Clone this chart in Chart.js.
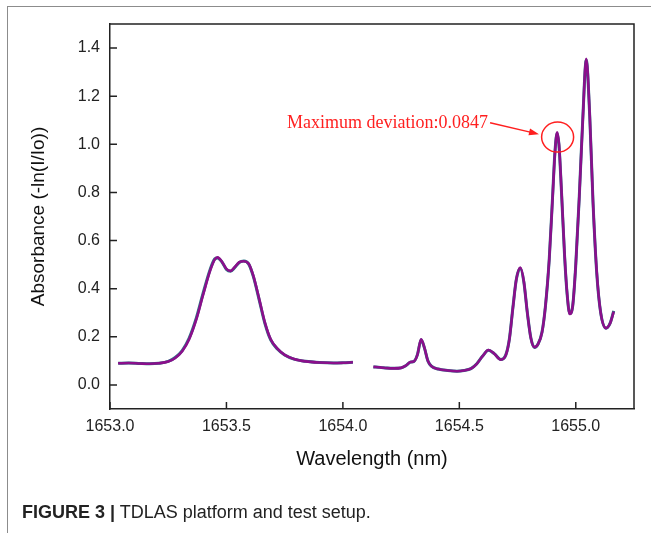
<!DOCTYPE html>
<html>
<head>
<meta charset="utf-8">
<script src="https://cdn.jsdelivr.net/npm/chart.js@4.4.1/dist/chart.umd.min.js"></script>
<style>
  body { margin: 0; background: #fff; }
  #wrap { position: relative; width: 651px; height: 533px; overflow: hidden; }
  #frame { position: absolute; left: 7px; top: 6px; width: 660px; height: 600px;
           border-top: 1.5px solid #8c8c8c; border-left: 1.5px solid #8c8c8c; }
  #myChart { position: absolute; left: 0; top: 0; }
  #caption { position: absolute; left: 22px; top: 503px; font-family: "Liberation Sans", Arial, sans-serif;
             font-size: 18px; line-height: 18px; color: #222; white-space: nowrap; }
  #caption b { font-weight: bold; }
</style>
</head>
<body>
<div id="wrap">
  <div id="frame"></div>
  <canvas id="myChart" width="651" height="533"></canvas>
  <div id="caption"><b>FIGURE 3 |</b> TDLAS platform and test setup.</div>
</div>
<script>
// wavelength (nm), null = gap in the scan
var wavelength = [
  1653.035, 1653.08, 1653.13, 1653.17, 1653.21, 1653.25, 1653.28, 1653.31, 1653.34, 1653.37,
  1653.40, 1653.43, 1653.45, 1653.462, 1653.48, 1653.50, 1653.517, 1653.535, 1653.555, 1653.575,
  1653.595, 1653.615, 1653.64, 1653.665, 1653.69, 1653.72, 1653.75, 1653.79, 1653.84, 1653.90,
  1653.96, 1654.00, 1654.043, null,
  1654.131, 1654.16, 1654.19, 1654.22, 1654.25, 1654.27, 1654.29, 1654.305, 1654.32, 1654.336,
  1654.35, 1654.365, 1654.38, 1654.41, 1654.45, 1654.49, 1654.52, 1654.55, 1654.575, 1654.60,
  1654.625, 1654.65, 1654.678, 1654.70, 1654.715, 1654.73, 1654.745, 1654.762, 1654.777, 1654.792,
  1654.807, 1654.822, 1654.838, 1654.855, 1654.87, 1654.886, 1654.90, 1654.911, 1654.92, 1654.928,
  1654.938, 1654.952, 1654.963, 1654.974, 1654.987, 1655.00, 1655.015, 1655.03, 1655.045, 1655.06,
  1655.074, 1655.09, 1655.107, 1655.13, 1655.147, 1655.163
];

// measured absorbance (teal, underneath)
var absMeasured = [
  0.090, 0.091, 0.089, 0.088, 0.090, 0.098, 0.114, 0.143, 0.195, 0.276,
  0.382, 0.480, 0.524, 0.528, 0.512, 0.480, 0.472, 0.487, 0.509, 0.515,
  0.503, 0.452, 0.356, 0.256, 0.187, 0.148, 0.124, 0.107, 0.098, 0.093,
  0.091, 0.092, 0.094, null,
  0.075, 0.073, 0.070, 0.069, 0.071, 0.080, 0.095, 0.098, 0.126, 0.188,
  0.154, 0.100, 0.078, 0.066, 0.060, 0.057, 0.060, 0.068, 0.088, 0.120,
  0.144, 0.130, 0.106, 0.126, 0.192, 0.322, 0.440, 0.485, 0.428, 0.300,
  0.196, 0.156, 0.170, 0.220, 0.330, 0.522, 0.775, 0.975, 1.045, 0.995,
  0.815, 0.535, 0.375, 0.297, 0.330, 0.500, 0.782, 1.105, 1.350, 1.115,
  0.760, 0.465, 0.300, 0.236, 0.256, 0.308
];

// fitted absorbance (purple, on top)
var absFitted = [
  0.090, 0.091, 0.089, 0.088, 0.090, 0.097, 0.112, 0.140, 0.190, 0.270,
  0.375, 0.475, 0.522, 0.530, 0.513, 0.482, 0.474, 0.489, 0.510, 0.514,
  0.505, 0.455, 0.360, 0.260, 0.190, 0.150, 0.125, 0.108, 0.098, 0.093,
  0.091, 0.092, 0.094, null,
  0.075, 0.073, 0.070, 0.069, 0.071, 0.080, 0.095, 0.098, 0.125, 0.190,
  0.155, 0.100, 0.078, 0.066, 0.060, 0.057, 0.060, 0.068, 0.088, 0.120,
  0.145, 0.130, 0.105, 0.125, 0.190, 0.320, 0.440, 0.488, 0.430, 0.300,
  0.195, 0.157, 0.170, 0.218, 0.330, 0.520, 0.770, 0.970, 1.050, 1.000,
  0.820, 0.540, 0.378, 0.295, 0.330, 0.500, 0.780, 1.100, 1.355, 1.120,
  0.760, 0.470, 0.300, 0.236, 0.255, 0.305
];

var xTicks = [1653.0, 1653.5, 1654.0, 1654.5, 1655.0];
var yTicks = [0.0, 0.2, 0.4, 0.6, 0.8, 1.0, 1.2, 1.4];

function toPoints(xs, ys) {
  return xs.map(function (x, i) {
    return x === null ? { x: 1654.09, y: null } : { x: x, y: ys[i] };
  });
}

var axisFont = "'Liberation Sans', Arial, sans-serif";

// inner ticks, box and the red annotation
var boxPlugin = {
  id: 'boxPlugin',
  afterDraw: function (chart) {
    var c = chart.ctx, a = chart.chartArea;
    var xs = chart.scales.x, ys = chart.scales.y;
    c.save();
    c.strokeStyle = '#222';
    c.lineWidth = 1.5;
    c.beginPath();
    c.moveTo(a.left, a.top); c.lineTo(a.right, a.top); c.lineTo(a.right, a.bottom);
    xTicks.forEach(function (v) {
      var px = xs.getPixelForValue(v);
      c.moveTo(px, a.bottom); c.lineTo(px, a.bottom - 7);
    });
    yTicks.forEach(function (v) {
      var py = ys.getPixelForValue(v);
      c.moveTo(a.left, py); c.lineTo(a.left + 7, py);
    });
    c.stroke();

    // annotation
    c.strokeStyle = '#ff1f1f';
    c.fillStyle = '#ff1f1f';
    c.lineWidth = 1.5;
    var cx = xs.getPixelForValue(1654.922), cy = ys.getPixelForValue(1.03);
    c.beginPath();
    c.ellipse(cx, cy, 16, 15, 0, 0, Math.PI * 2);
    c.stroke();

    var sx = xs.getPixelForValue(1654.632), sy = ys.getPixelForValue(1.09);
    var ex = xs.getPixelForValue(1654.842), ey = ys.getPixelForValue(1.042);
    var ang = Math.atan2(ey - sy, ex - sx);
    c.beginPath();
    c.moveTo(sx, sy); c.lineTo(ex - 8 * Math.cos(ang), ey - 8 * Math.sin(ang));
    c.stroke();
    c.beginPath();
    c.moveTo(ex, ey);
    c.lineTo(ex - 10 * Math.cos(ang) + 3.5 * Math.sin(ang), ey - 10 * Math.sin(ang) - 3.5 * Math.cos(ang));
    c.lineTo(ex - 10 * Math.cos(ang) - 3.5 * Math.sin(ang), ey - 10 * Math.sin(ang) + 3.5 * Math.cos(ang));
    c.closePath();
    c.fill();

    c.font = "18px 'Liberation Serif', 'Times New Roman', serif";
    c.textAlign = 'right';
    c.textBaseline = 'middle';
    c.fillText('Maximum deviation:0.0847', sx - 2, sy + 1);
    c.restore();
  }
};

var ctx = document.getElementById('myChart').getContext('2d');
var myChart = new Chart(ctx, {
  type: 'line',
  data: {
    datasets: [{
      label: 'Fitted',
      data: toPoints(wavelength, absFitted),
      borderColor: '#8b0f8b',
      borderWidth: 2.6,
      pointRadius: 0,
      cubicInterpolationMode: 'monotone',
      spanGaps: false
    }, {
      label: 'Measured',
      data: toPoints(wavelength, absMeasured),
      borderColor: '#2a7585',
      borderWidth: 3,
      pointRadius: 0,
      cubicInterpolationMode: 'monotone',
      spanGaps: false
    }]
  },
  options: {
    responsive: false,
    animation: false,
    layout: { padding: { left: 0, right: 17, top: 24, bottom: 53 } },
    plugins: {
      legend: { display: false },
      tooltip: { enabled: false }
    },
    scales: {
      x: {
        type: 'linear',
        min: 1653.0,
        max: 1655.25,
        afterBuildTicks: function (s) { s.ticks = xTicks.map(function (v) { return { value: v }; }); },
        afterFit: function (s) { s.height = 71; },
        grid: { display: false, drawTicks: false },
        border: { display: true, color: '#222', width: 1.5 },
        ticks: {
          padding: 8,
          color: '#222',
          font: { family: axisFont, size: 16 },
          callback: function (v) { return v.toFixed(1); }
        },
        title: {
          display: true,
          text: 'Wavelength (nm)',
          color: '#111',
          font: { family: axisFont, size: 20 },
          padding: { top: 0, bottom: 9 }
        }
      },
      y: {
        min: -0.1,
        max: 1.5,
        afterBuildTicks: function (s) { s.ticks = yTicks.map(function (v) { return { value: v }; }); },
        afterFit: function (s) { s.width = 110; },
        grid: { display: false, drawTicks: false },
        border: { display: true, color: '#222', width: 1.5 },
        ticks: {
          padding: 10,
          color: '#222',
          font: { family: axisFont, size: 16 },
          callback: function (v) { return v.toFixed(1); }
        },
        title: {
          display: true,
          text: 'Absorbance (-ln(I/Io))',
          color: '#111',
          font: { family: axisFont, size: 19 },
          padding: { top: 27, bottom: 0 }
        }
      }
    }
  },
  plugins: [boxPlugin]
});
</script>
</body>
</html>
